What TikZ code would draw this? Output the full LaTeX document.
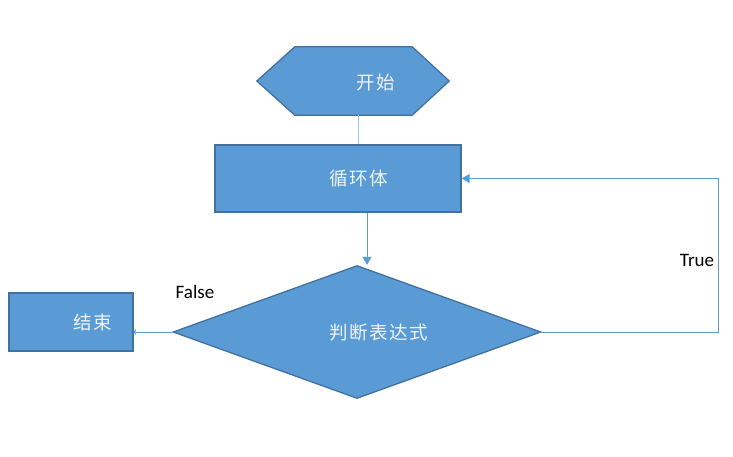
\documentclass[tikz,border=0pt]{standalone}
\usepackage{fontspec}
\setmainfont{Carlito}
\newfontfamily\cjk[LetterSpace=8]{Noto Sans CJK SC}
\usetikzlibrary{shapes.geometric,arrows.meta,calc}
\definecolor{boxfill}{HTML}{5B9BD5}
\definecolor{boxline}{HTML}{41719C}
\definecolor{conn}{HTML}{5B9BD5}
\definecolor{connlight}{HTML}{9DC3E6}
\definecolor{cjktext}{HTML}{EEF3F9}
\tikzset{
  shapebox/.style={draw=boxline, fill=boxfill, line width=1.3pt, inner sep=0pt},
  lbl/.style={font=\cjk\fontsize{18.5}{19}\selectfont, text=cjktext},
  conline/.style={draw=conn, line width=0.9pt},
  arr/.style={-{Triangle[length=8pt,width=9pt]}},
  tf/.style={font=\fontsize{19}{20}\selectfont, text=black},
}
\begin{document}
\begin{tikzpicture}[x=1pt,y=-1pt]
\useasboundingbox (0,0) rectangle (733,456);
% start hexagon (invisible frame node + drawn outline)
\node[minimum width=192pt, minimum height=68pt, inner sep=0pt] (start) at (353,81) {};
\draw[shapebox] (start.west) -- ($(start.north west)+(38,0)$) -- ($(start.north east)+(-37,0)$)
  -- (start.east) -- ($(start.south east)+(-37,0)$) -- ($(start.south west)+(38,0)$) -- cycle;
\node[lbl] (starttext) at (376,82) {开始};
% loop body
\node[shapebox, rectangle, minimum width=246pt, minimum height=67pt,
      label={[lbl, xshift=21pt]center:循环体}] (loop) at (338,178.5) {};
% condition diamond
\node[shapebox, diamond, minimum width=368pt, minimum height=133pt, aspect=2.77,
      label={[lbl, xshift=22pt]center:判断表达式}] (cond) at (357,332) {};
% end box
\node[shapebox, rectangle, minimum width=124pt, minimum height=58pt,
      label={[lbl, xshift=22pt]center:结束}] (end) at (71,322) {};
% connectors
\draw[draw=connlight, line width=1pt] ([xshift=5pt]start.south) -- ([xshift=5pt]start.south |- loop.north);
\draw[conline, arr] ([xshift=29pt]loop.south) -- ([xshift=29pt]loop.south |- cond.north);
\draw[conline, -{Triangle[length=2pt,width=6pt]}] (cond.west) -- (cond.west -| end.east);
\coordinate (turn) at ($(cond.east)+(177,0)$);
\draw[conline, arr] (cond.east) -- (turn) |- (loop.east);
% labels
\node[tf] (falselbl) at (195,292) {False};
\node[tf] (truelbl) at (697,260) {True};
\end{tikzpicture}
\end{document}
